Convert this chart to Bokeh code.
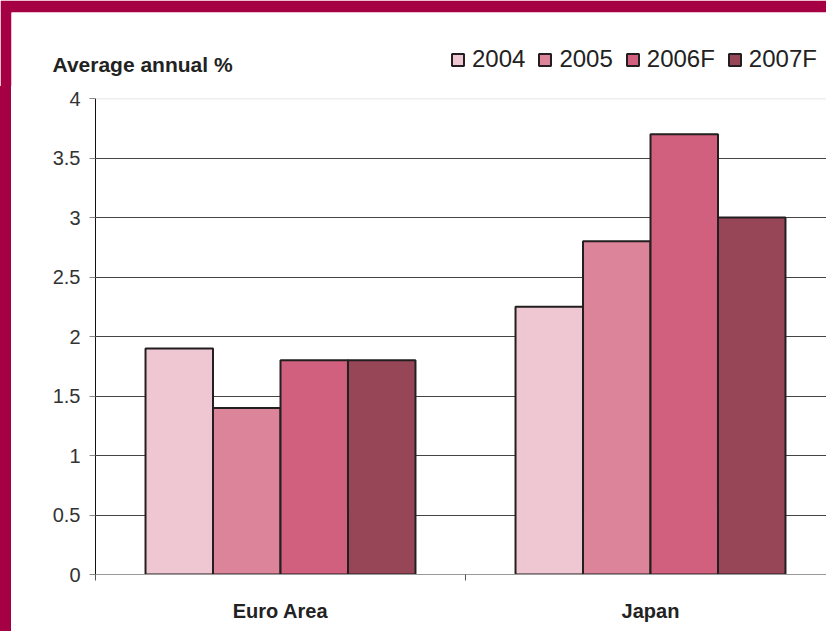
from bokeh.plotting import figure
from bokeh.layouts import column, row
from bokeh.models import (ColumnDataSource, Range1d, FixedTicker, NumeralTickFormatter,
                          Legend, LegendItem, Label, Span, Spacer)
from bokeh.embed import file_html
from bokeh.resources import INLINE

categories = ["Euro Area", "Japan"]
series = ["2004", "2005", "2006F", "2007F"]
values_2004 = [1.9, 2.25]
values_2005 = [1.4, 2.8]
values_2006F = [1.8, 3.7]
values_2007F = [1.8, 3.0]
all_values = [values_2004, values_2005, values_2006F, values_2007F]
colors = ["#EFC7D3", "#DC8499", "#D1607E", "#974658"]
y_ticks = [0, 0.5, 1, 1.5, 2, 2.5, 3, 3.5, 4]

CRIMSON = "#A60044"
FONT = "Liberation Sans"
EDGE = "#231F20"

# ---------------- main chart ----------------
p = figure(width=815, height=545, output_backend="svg", toolbar_location=None,
           x_range=Range1d(0, 731 / 370), y_range=Range1d(0, 4),
           min_border_left=84, min_border_right=0, min_border_top=12, min_border_bottom=57)
p.outline_line_color = None
p.background_fill_color = "white"
p.border_fill_color = "white"

bar_w = 0.1824
sources = []
for j, (name, vals, col) in enumerate(zip(series, all_values, colors)):
    xs = [i + 0.5 + (j - 1.5) * bar_w for i in range(len(categories))]
    src = ColumnDataSource(dict(x=xs, top=vals))
    sources.append(src)
    p.vbar(x="x", top="top", width=bar_w, bottom=0, source=src,
           fill_color=col, line_color=EDGE, line_width=2)

p.yaxis.ticker = FixedTicker(ticks=y_ticks)
p.yaxis.formatter = NumeralTickFormatter(format="0.[0]")
p.yaxis.major_label_text_font = FONT
p.yaxis.major_label_text_font_size = "20px"
p.yaxis.major_label_text_color = "#333333"
p.yaxis.major_label_standoff = 9
p.yaxis.major_tick_in = 0
p.yaxis.major_tick_out = 6
p.yaxis.major_tick_line_color = "#888888"
p.yaxis.minor_tick_line_color = None
p.yaxis.axis_line_color = "#111111"

p.xaxis.ticker = FixedTicker(ticks=[0.5, 1.5], minor_ticks=[0, 1, 2])
p.xaxis.major_label_overrides = {0.5: categories[0], 1.5: categories[1]}
p.xaxis.major_tick_line_color = None
p.xaxis.minor_tick_in = 0
p.xaxis.minor_tick_out = 6
p.xaxis.minor_tick_line_color = "#555555"
p.xaxis.axis_line_color = "#999999"
p.xaxis.major_label_text_font = FONT
p.xaxis.major_label_text_font_style = "bold"
p.xaxis.major_label_text_font_size = "20px"
p.xaxis.major_label_text_color = "#222222"
p.xaxis.major_label_standoff = 19

p.xgrid.grid_line_color = None
p.ygrid.ticker = FixedTicker(ticks=y_ticks[1:-1])
p.ygrid.grid_line_color = "#444444"
p.ygrid.grid_line_width = 1
p.add_layout(Span(location=4, dimension="width", line_color="#DDDDDD", line_width=1.5))

# ---------------- header (title + legend, crimson top/left strips) ----------------
h = figure(width=826, height=86, output_backend="svg", toolbar_location=None,
           x_range=Range1d(11, 826), y_range=Range1d(86, 12),
           x_axis_location=None, y_axis_location=None,
           min_border_left=11, min_border_top=12, min_border_right=0, min_border_bottom=0)
h.border_fill_color = CRIMSON
h.background_fill_color = "white"
h.outline_line_color = None
h.grid.visible = False

h.add_layout(Label(x=52, y=64, text="Average annual %", text_font=FONT,
                   text_font_style="bold", text_font_size="21px",
                   text_color="#222222", text_baseline="middle"))

legend_renderers = []
for src, col in zip(sources, colors):
    r = h.vbar(x="x", top="top", width=bar_w, source=src, fill_color=col,
               line_color=EDGE, line_width=2, visible=False)
    legend_renderers.append(r)
items = [LegendItem(label=name, renderers=[r]) for name, r in zip(series, legend_renderers)]
legend = Legend(items=items, orientation="horizontal", location=(439, 13),
                glyph_width=15, glyph_height=15, label_standoff=7, spacing=12,
                label_text_font=FONT, label_text_font_size="24px", label_text_color="#222222",
                padding=0, margin=0, border_line_color=None, background_fill_alpha=0,
                label_width=0, click_policy="none")
h.add_layout(legend, "center")

# ---------------- left crimson strip ----------------
strip = Spacer(width=11, height=545, styles={"background-color": CRIMSON})

body = row(strip, p, spacing=0, styles={"background-color": "white"})
layout = column(h, body, spacing=0)
open("out.html", "w").write(file_html(layout, INLINE))
